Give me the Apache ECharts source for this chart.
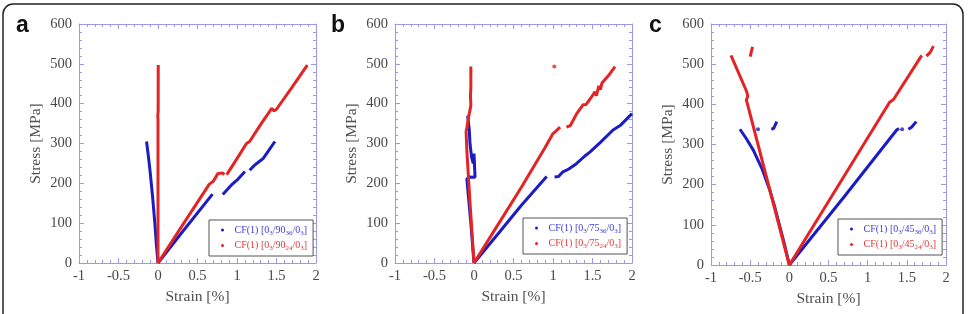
<!DOCTYPE html>
<html>
<head>
<meta charset="utf-8">
<script src="https://cdn.jsdelivr.net/npm/echarts@6/dist/echarts.min.js"></script>
<style>
html, body { margin: 0; padding: 0; background: #fff; }
#chart { width: 971px; height: 314px; }
</style>
</head>
<body>
<div id="chart"></div>
<script>
// strain [%], stress [MPa]; each inner list is one unbroken piece
var aBlue = [
	[[-0.145, 305], [-0.12, 265], [-0.1, 230], [-0.07, 170], [-0.04, 100], [-0.02, 45], [0, 0]],
	[[0, 0], [0.3, 76], [0.69, 173]],
	[[0.82, 172], [0.88, 185], [0.93, 196], [1.0, 208], [1.1, 230]],
	[[1.16, 233], [1.22, 245], [1.29, 256], [1.33, 262], [1.4, 282], [1.48, 305]]
];
var aRed = [
	[[0.003, 497], [0.002, 380], [-0.003, 370], [0, 360], [0, 0]],
	[[0, 0], [0.3, 92], [0.65, 198], [0.7, 205], [0.76, 225], [0.82, 226], [0.84, 222]],
	[[0.87, 222], [1.0, 262], [1.12, 300], [1.16, 305], [1.3, 348], [1.44, 388], [1.47, 382], [1.5, 386], [1.7, 442], [1.89, 497]]
];
var bBlue = [
	[[-0.08, 370], [-0.06, 335], [-0.05, 330], [-0.05, 298], [-0.03, 265], [-0.01, 250], [0, 275], [0.01, 230], [0.013, 215], [-0.01, 217], [-0.07, 216], [-0.09, 210], [-0.04, 100], [0, 0]],
	[[0, 0], [0.3, 72], [0.6, 145], [0.92, 217]],
	[[1.02, 216], [1.07, 217], [1.12, 228], [1.2, 236], [1.3, 250], [1.4, 268], [1.47, 279], [1.6, 303], [1.76, 334], [1.85, 345], [2.0, 375]]
];
var bRed = [
	[[-0.04, 493], [-0.04, 440], [-0.045, 420], [-0.04, 395], [-0.05, 392], [-0.07, 365], [-0.09, 340], [-0.1, 330], [-0.09, 280], [-0.05, 150], [0, 0]],
	[[0, 0], [0.3, 95], [0.6, 190], [0.9, 290], [1.0, 325], [1.03, 330], [1.09, 341]],
	[[1.17, 341], [1.22, 345], [1.3, 375], [1.38, 397], [1.42, 398], [1.5, 420], [1.53, 430], [1.55, 420], [1.58, 445], [1.6, 435], [1.62, 452], [1.7, 470], [1.785, 493]]
];
var bRedDots = [[1.016, 493]];
var cBlue = [
	[[-0.63, 338], [-0.55, 315], [-0.46, 286], [-0.35, 240], [-0.25, 187], [-0.18, 140], [-0.12, 95], [-0.06, 50], [0, 0]],
	[[-0.23, 338], [-0.2, 340], [-0.16, 357]],
	[[0, 0], [0.7, 170], [1.37, 336], [1.4, 340]],
	[[1.52, 338], [1.56, 343], [1.62, 357]]
];
var cBlueDots = [[-0.4, 338], [1.44, 338]];
var cRed = [
	[[-0.745, 522], [-0.545, 432], [-0.53, 420], [-0.55, 410], [-0.54, 405], [-0.4, 300], [-0.2, 150], [0, 0]],
	[[-0.5, 519], [-0.47, 543]],
	[[0, 0], [0.6, 190], [1.28, 405], [1.3, 408], [1.33, 412], [1.69, 522]],
	[[1.75, 520], [1.8, 530], [1.84, 545]]
];
var namesA = ['CF(1) [0_3/90_36/0_3]', 'CF(1) [0_3/90_24/0_3]'];
var namesB = ['CF(1) [0_3/75_36/0_3]', 'CF(1) [0_3/75_24/0_3]'];
var namesC = ['CF(1) [0_3/45_36/0_3]', 'CF(1) [0_3/45_24/0_3]'];
var panelLetters = ['a', 'b', 'c'];

var BLUE = '#1c1cc4';
var RED = '#e42424';
var AXIS = '#9a9ae8';
var SERIF = '"Liberation Serif", "Times New Roman", serif';

var grids = [
	{ left: 79, top: 24, width: 237, height: 239 },
	{ left: 395, top: 24, width: 237, height: 239 },
	{ left: 711, top: 24, width: 235, height: 241 }
];

// join the pieces with a break marker so the line is not drawn across gaps
function joinPieces(pieces) {
	var out = [];
	for (var i = 0; i < pieces.length; i++) {
		if (i > 0) out.push(['-', '-']);
		for (var j = 0; j < pieces[i].length; j++) out.push(pieces[i][j]);
	}
	return out;
}

var xAxes = [], yAxes = [];
for (var g = 0; g < 3; g++) {
	var common = {
		type: 'value', gridIndex: g,
		axisLine: { show: true, onZero: false, lineStyle: { color: AXIS, width: 1 } },
		axisTick: { show: true, inside: true, length: 5, lineStyle: { color: AXIS } },
		minorTick: { show: true, splitNumber: 5, length: 3, lineStyle: { color: AXIS } },
		splitLine: { show: false }
	};
	xAxes.push(Object.assign({}, common, {
		position: 'bottom', min: -1, max: 2, interval: 0.5,
		name: 'Strain [%]', nameLocation: 'middle', nameGap: 22,
		nameTextStyle: { fontFamily: SERIF, fontSize: 15.5, color: '#505050' },
		axisLabel: { fontFamily: SERIF, fontSize: 14.5, color: '#484848', margin: 6, showMinLabel: true, showMaxLabel: true }
	}));
	xAxes.push(Object.assign({}, common, {
		position: 'top', min: -1, max: 2, interval: 0.5,
		axisLabel: { show: false }
	}));
	yAxes.push(Object.assign({}, common, {
		position: 'left', min: 0, max: 600, interval: 100,
		name: 'Stress [MPa]', nameLocation: 'middle', nameGap: 35,
		nameTextStyle: { fontFamily: SERIF, fontSize: 15.5, color: '#505050' },
		axisLabel: { fontFamily: SERIF, fontSize: 14.5, color: '#484848', margin: 7, showMinLabel: true, showMaxLabel: true }
	}));
	yAxes.push(Object.assign({}, common, {
		position: 'right', min: 0, max: 600, interval: 100,
		axisLabel: { show: false }
	}));
}

function lineSeries(name, pieces, color, g) {
	return {
		name: name, type: 'line', xAxisIndex: g * 2, yAxisIndex: g * 2,
		data: joinPieces(pieces), showSymbol: false, connectNulls: false,
		lineStyle: { color: color, width: 3 }, itemStyle: { color: color },
		animation: false, silent: true
	};
}
function dotSeries(name, pts, color, g) {
	return {
		name: name, type: 'scatter', xAxisIndex: g * 2, yAxisIndex: g * 2,
		data: pts, symbolSize: 4, itemStyle: { color: color },
		animation: false, silent: true
	};
}

var series = [
	lineSeries(namesA[0], aBlue, BLUE, 0),
	lineSeries(namesA[1], aRed, RED, 0),
	lineSeries(namesB[0], bBlue, BLUE, 1),
	lineSeries(namesB[1], bRed, RED, 1),
	dotSeries(namesB[1], bRedDots, RED, 1),
	lineSeries(namesC[0], cBlue, BLUE, 2),
	dotSeries(namesC[0], cBlueDots, BLUE, 2),
	lineSeries(namesC[1], cRed, RED, 2)
];

function legendFor(names, left, top) {
	return {
		orient: 'vertical', left: left, top: top, width: 100,
		padding: [5, 6, 4, 12], itemGap: 4,
		backgroundColor: '#fff', borderColor: '#555', borderWidth: 1,
		icon: 'circle', itemWidth: 14, itemHeight: 3,
		selectedMode: false,
		data: [
			{ name: names[0], textStyle: { color: '#3c3cdc' } },
			{ name: names[1], textStyle: { color: '#e23a3a' } }
		],
		formatter: function(n) {
			return n.replace(/_(\w+)/g, '{s|$1}');
		},
		textStyle: {
			fontFamily: SERIF, fontSize: 10,
			rich: { s: { fontFamily: SERIF, fontSize: 7, padding: [6, 0, 0, 0] } }
		}
	};
}

var graphics = [{
	type: 'rect', shape: { x: 3, y: 4, width: 960, height: 340, r: 10 },
	style: { fill: 'none', stroke: '#222', lineWidth: 1.5 }, silent: true
}];
var letterX = [16, 331, 649];
for (var k = 0; k < 3; k++) {
	graphics.push({
		type: 'text', left: letterX[k], top: 14,
		style: { text: panelLetters[k], font: 'bold 23px "Liberation Sans", Arial, sans-serif', fill: '#111' }
	});
}

var myChart = echarts.init(document.getElementById('chart'));
myChart.setOption({
	animation: false,
	backgroundColor: '#fff',
	grid: grids,
	xAxis: xAxes,
	yAxis: yAxes,
	legend: [
		legendFor(namesA, 209, 220),
		legendFor(namesB, 523, 218),
		legendFor(namesC, 838, 219)
	],
	series: series,
	graphic: graphics
});
</script>
</body>
</html>
